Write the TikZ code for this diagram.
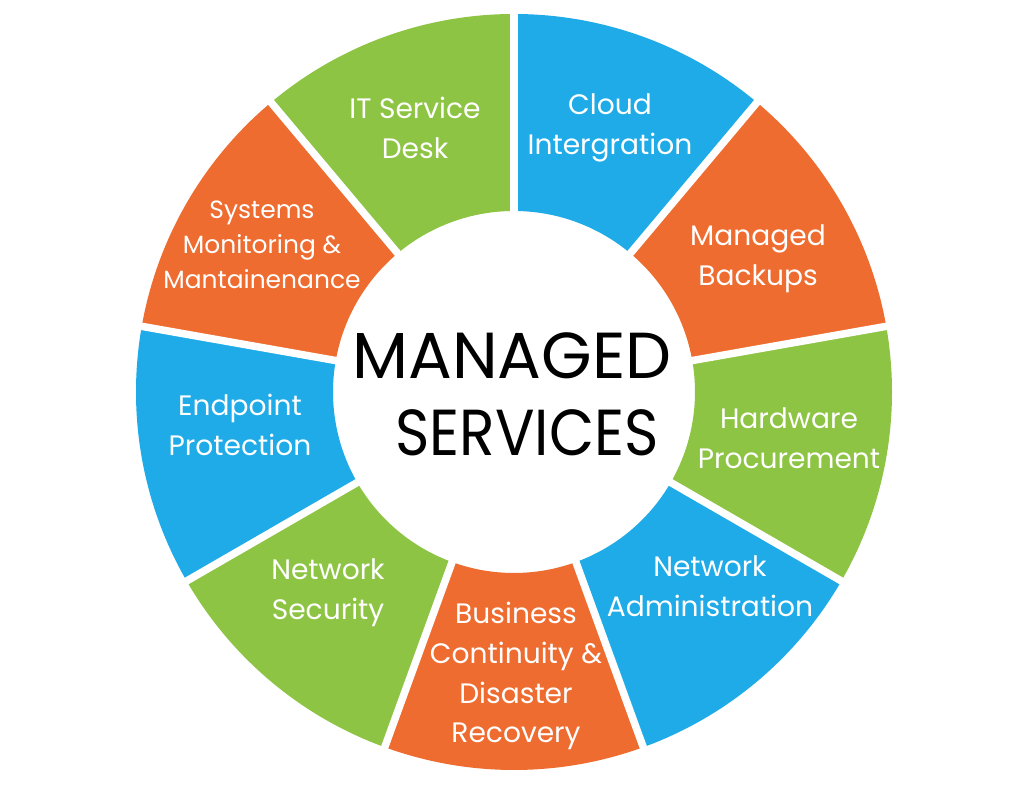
\documentclass[tikz,border=0pt]{standalone}
\usepackage{fontspec}
\setmainfont{Poppins}
\usetikzlibrary{calc}
\definecolor{sgreen}{HTML}{8DC443}
\definecolor{sblue}{HTML}{1EABE7}
\definecolor{sorange}{HTML}{EE6C2F}
\tikzset{
  lbl/.style={text=white, align=center, inner sep=0pt, font=\fontsize{16}{22.7}\selectfont},
  lblsmall/.style={text=white, align=center, inner sep=0pt, font=\fontsize{14.2}{19.9}\selectfont},
  title/.style={text=black, inner sep=0pt, font=\fontsize{37}{44}\selectfont},
  gap/.style={white, line width=0.15cm}
}
\begin{document}
\begin{tikzpicture}
\fill[white] (0,0) rectangle (20.48,15.74);
\useasboundingbox (0,0) rectangle (20.48,15.74);
\coordinate (C) at (10.28,7.90);
\foreach \a/\col in {50/sblue,10/sorange,-30/sgreen,-70/sblue,-110/sorange,-150/sgreen,-190/sblue,-230/sorange,-270/sgreen}{
  \pgfmathsetmacro\b{\a+40}
  \fill[\col] ([shift={(\a:3.62)}]C) -- ([shift={(\a:7.56)}]C)
     arc[start angle=\a, end angle=\b, radius=7.56cm]
     -- ([shift={(\b:3.62)}]C)
     arc[start angle=\b, end angle=\a, radius=3.62cm] -- cycle;
}
\foreach \a in {90,50,10,-30,-70,-110,-150,-190,-230}{
  \draw[gap] (C) -- ([shift={(\a:7.8)}]C);
}
\node[lbl] (itsd) at (8.30,13.18) {IT Service\\Desk};
\node[lbl] (cloud) at (12.20,13.18) {Cloud\\Intergration};
\node[lbl] (backups) at (15.16,10.56) {Managed\\Backups};
\node[lbl] (hardware) at (15.78,6.98) {Hardware\\Procurement};
\node[lbl] (netadmin) at (14.20,4.02) {Network\\Administration};
\node[lbl] (business) at (10.32,2.22) {Business\\Continuity \&\\Disaster\\Recovery};
\node[lbl] (netsec) at (6.56,3.88) {Network\\Security};
\node[lbl] (endpoint) at (4.80,7.24) {Endpoint\\Protection};
\node[lblsmall] (systems) at (5.24,10.84) {Systems\\Monitoring \&\\Mantainenance};
\node[title] (managed) at (10.24,8.62) {MANAGED};
\node[title] (services) at (10.54,7.08) {\scalebox{0.9}[1]{SERVICES}};
\end{tikzpicture}
\end{document}
